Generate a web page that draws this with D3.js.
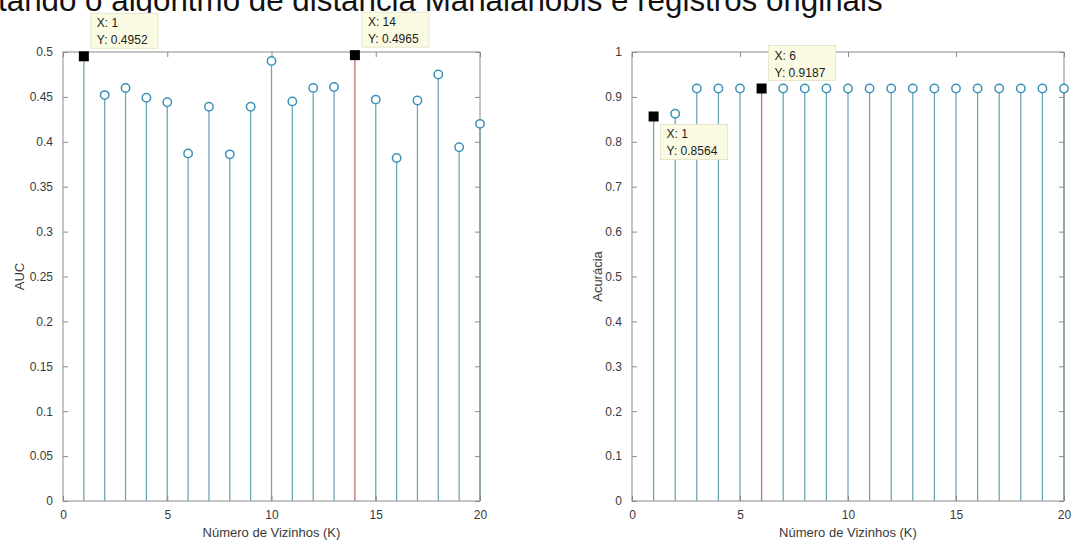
<!DOCTYPE html>
<html>
<head>
<meta charset="utf-8">
<script src="https://cdn.jsdelivr.net/npm/d3@7"></script>
<style>
  html, body { margin: 0; padding: 0; background: #fff; }
  svg { display: block; font-family: "Liberation Sans", Arial, Helvetica, sans-serif; }
</style>
</head>
<body>
<svg id="chart" width="1074" height="542"></svg>
<script>
// Number of neighbours K (shared by both panels)
const kValues = [1, 2, 3, 4, 5, 6, 7, 8, 9, 10, 11, 12, 13, 14, 15, 16, 17, 18, 19, 20];

// Left panel: AUC per K
const aucValues = [0.4952, 0.452, 0.460, 0.449, 0.444, 0.387, 0.439, 0.386, 0.439, 0.490,
                   0.445, 0.460, 0.461, 0.4965, 0.447, 0.382, 0.446, 0.475, 0.394, 0.420];

// Right panel: accuracy per K
const accValues = [0.8564, 0.8625, 0.9187, 0.9187, 0.9187, 0.9187, 0.9187, 0.9187, 0.9187, 0.9187,
                   0.9187, 0.9187, 0.9187, 0.9187, 0.9187, 0.9187, 0.9187, 0.9187, 0.9187, 0.9187];

// Tick labels
const xTicks = [0, 5, 10, 15, 20];
const aucTicks = [0, 0.05, 0.1, 0.15, 0.2, 0.25, 0.3, 0.35, 0.4, 0.45, 0.5];
const accTicks = [0, 0.1, 0.2, 0.3, 0.4, 0.5, 0.6, 0.7, 0.8, 0.9, 1];

// Highlighted stems (drawn in red) and data tips
const aucHighlight = [14];
const accHighlight = [6];
const aucTips = [{ k: 1, side: "up" }, { k: 14, side: "up" }];
const accTips = [{ k: 1, side: "down" }, { k: 6, side: "up" }];

const titleText = "tando o algoritmo de distância Mahalanobis e registros originais";
const xLabel = "Número de Vizinhos (K)";

const svg = d3.select("#chart");

const stemColor = "#6fa7b9";
const markerColor = "#3b90b8";
const redColor = "#cf6b6b";
const axisColor = "#8a8a8a";
const textColor = "#3a3a3a";

// Title (runs off the left edge)
const title = svg.append("text")
  .attr("x", -2).attr("y", 11)
  .attr("fill", "#111")
  .style("font-size", "26px")
  .text(titleText);
const w = title.node().getComputedTextLength();
title.style("font-size", (26 * 885 / w).toFixed(2) + "px");

function drawPanel(cfg) {
  const x = d3.scaleLinear().domain([0, 20]).range([cfg.left, cfg.right]);
  const y = d3.scaleLinear().domain([0, cfg.yMax]).range([cfg.bottom, cfg.top]);
  const g = svg.append("g");

  // Stems
  g.selectAll("line.stem").data(kValues).enter().append("line")
    .attr("x1", k => x(k)).attr("x2", k => x(k))
    .attr("y1", y(0)).attr("y2", (k, i) => y(cfg.values[i]))
    .attr("stroke", k => cfg.highlight.includes(k) ? redColor : stemColor)
    .attr("stroke-width", 1.3);

  // Axis box
  g.append("rect")
    .attr("x", cfg.left).attr("y", cfg.top)
    .attr("width", cfg.right - cfg.left).attr("height", cfg.bottom - cfg.top)
    .attr("fill", "none").attr("stroke", axisColor).attr("stroke-width", 1);

  // Bottom / left axes with inward ticks, mirrored on top / right
  const xAxis = d3.axisBottom(x).tickValues(xTicks).tickSizeInner(-5).tickSizeOuter(0).tickPadding(9).tickFormat(d3.format("d"));
  const yAxis = d3.axisLeft(y).tickValues(cfg.ticks).tickSizeInner(-5).tickSizeOuter(0).tickPadding(10).tickFormat(d => String(d));
  const xa = g.append("g").attr("transform", `translate(0,${cfg.bottom})`).call(xAxis);
  const ya = g.append("g").attr("transform", `translate(${cfg.left},0)`).call(yAxis);
  const xt = g.append("g").attr("transform", `translate(0,${cfg.top})`)
    .call(d3.axisTop(x).tickValues(xTicks).tickSizeInner(-5).tickSizeOuter(0).tickFormat(""));
  const yr = g.append("g").attr("transform", `translate(${cfg.right},0)`)
    .call(d3.axisRight(y).tickValues(cfg.ticks).tickSizeInner(-5).tickSizeOuter(0).tickFormat(""));
  [xa, ya, xt, yr].forEach(a => {
    a.select(".domain").remove();
    a.selectAll(".tick line").attr("stroke", axisColor);
    a.selectAll(".tick text").attr("fill", textColor).style("font-size", "12px")
      .style("font-family", "'Liberation Sans', Arial, sans-serif");
  });

  // Markers: open circles, filled squares for data-tip points
  const tipKs = cfg.tips.map(t => t.k);
  g.selectAll("circle.mk").data(kValues.filter(k => !tipKs.includes(k))).enter().append("circle")
    .attr("cx", k => x(k)).attr("cy", k => y(cfg.values[k - 1]))
    .attr("r", 4.2).attr("fill", "#fff").attr("stroke", markerColor).attr("stroke-width", 1.5);
  g.selectAll("rect.sq").data(tipKs).enter().append("rect")
    .attr("x", k => x(k) - 5).attr("y", k => y(cfg.values[k - 1]) - 5)
    .attr("width", 10).attr("height", 10).attr("fill", "#000");

  // Data tips
  cfg.tips.forEach(t => {
    const v = cfg.values[t.k - 1];
    const px = x(t.k), py = y(v);
    const bw = 67, bh = 35;
    const bx = px + 7;
    const by = t.side === "up" ? py - 8 - bh : py + 8;
    const tip = g.append("g");
    tip.append("rect").attr("x", bx).attr("y", by).attr("width", bw).attr("height", bh)
      .attr("fill", "#fbfbe3").attr("stroke", "#e6e6cc").attr("stroke-width", 1);
    tip.append("text").attr("x", bx + 6).attr("y", by + 14).attr("fill", "#222")
      .style("font-size", "12px").text("X: " + t.k);
    tip.append("text").attr("x", bx + 6).attr("y", by + 31).attr("fill", "#222")
      .style("font-size", "12px").text("Y: " + v.toFixed(4));
  });

  // Axis labels
  g.append("text").attr("x", (cfg.left + cfg.right) / 2).attr("y", 537)
    .attr("text-anchor", "middle").attr("fill", textColor).style("font-size", "13px").text(xLabel);
  g.append("text")
    .attr("transform", `translate(${cfg.yLabelX},${(cfg.top + cfg.bottom) / 2}) rotate(-90)`)
    .attr("text-anchor", "middle").attr("fill", textColor).style("font-size", "13px").text(cfg.yLabel);
}

drawPanel({
  left: 63, right: 480, top: 52, bottom: 501,
  yMax: 0.5, ticks: aucTicks, values: aucValues,
  highlight: aucHighlight, tips: aucTips, yLabel: "AUC", yLabelX: 24
});

drawPanel({
  left: 632, right: 1064, top: 52, bottom: 501,
  yMax: 1, ticks: accTicks, values: accValues,
  highlight: accHighlight, tips: accTips, yLabel: "Acurácia", yLabelX: 602
});
</script>
</body>
</html>
